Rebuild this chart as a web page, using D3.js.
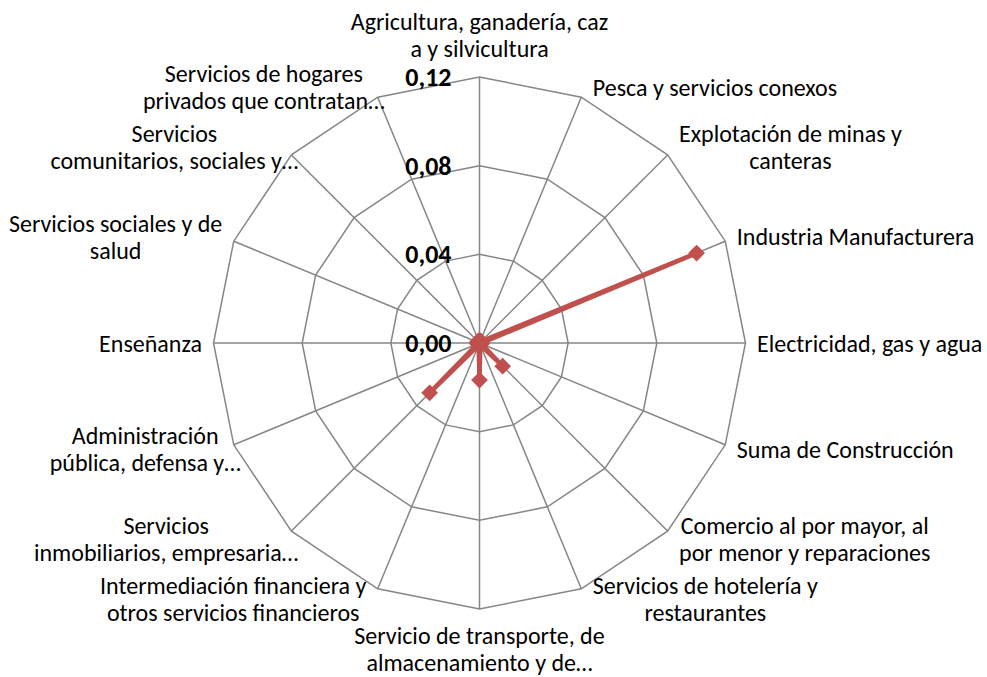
<!DOCTYPE html>
<html>
<head>
<meta charset="utf-8">
<script src="https://cdn.jsdelivr.net/npm/d3@7"></script>
<style>
  html, body { margin: 0; padding: 0; background: #fff; }
  svg text { font-family: Calibri, Carlito, Lato, sans-serif; fill: #000; }
</style>
</head>
<body>
<svg id="chart" width="987" height="677"></svg>
<script>
// ---- data ----
const categories = [
  ["Agricultura, ganadería, caz", "a y silvicultura"],
  ["Pesca y servicios conexos"],
  ["Explotación de minas y", "canteras"],
  ["Industria Manufacturera"],
  ["Electricidad, gas y agua"],
  ["Suma de Construcción"],
  ["Comercio al por mayor, al", "por menor y reparaciones"],
  ["Servicios de hotelería y", "restaurantes"],
  ["Servicio de transporte, de", "almacenamiento y de…"],
  ["Intermediación financiera y", "otros servicios financieros"],
  ["Servicios", "inmobiliarios, empresaria…"],
  ["Administración", "pública, defensa y…"],
  ["Enseñanza"],
  ["Servicios sociales y de", "salud"],
  ["Servicios", "comunitarios, sociales y…"],
  ["Servicios de hogares", "privados que contratan…"]
];
const values = [0.001, 0.001, 0.001, 0.106, 0.001, 0.001, 0.0148, 0.001,
                0.0167, 0.001, 0.0318, 0.001, 0.001, 0.001, 0.001, 0.001];
const tickValues = [0, 0.04, 0.08, 0.12];
const tickLabels = ["0,00", "0,04", "0,08", "0,12"];

// ---- layout ----
const svg = d3.select("#chart");
const cx = 479.5, cy = 343, R = 266;
const n = categories.length;
const fontSize = 24, lineH = 27;
const r = d3.scaleLinear().domain([0, 0.12]).range([0, R]);
const ang = d3.scaleLinear().domain([0, n]).range([0, 2 * Math.PI]);
const px = (i, v) => cx + r(v) * Math.sin(ang(i));
const py = (i, v) => cy - r(v) * Math.cos(ang(i));
const gridColor = "#868686";
const red = "#C0504D";

const g = svg.append("g");

// rings
tickValues.slice(1).forEach(t => {
  g.append("path")
    .attr("d", d3.line()(d3.range(n).map(i => [px(i, t), py(i, t)])) + "Z")
    .attr("fill", "none").attr("stroke", gridColor).attr("stroke-width", 1.5);
});
// spokes
d3.range(n).forEach(i => {
  g.append("line")
    .attr("x1", cx).attr("y1", cy)
    .attr("x2", px(i, 0.12)).attr("y2", py(i, 0.12))
    .attr("stroke", gridColor).attr("stroke-width", 1.5);
});

// tick labels
tickValues.forEach((t, k) => {
  g.append("text")
    .attr("x", cx - 28).attr("y", cy - r(t))
    .attr("text-anchor", "end").attr("dominant-baseline", "central")
    .attr("font-weight", "bold").attr("font-size", 26)
    .text(tickLabels[k]);
});

// category labels
categories.forEach((lines, i) => {
  const a = ang(i);
  const s = Math.sin(a), c = Math.cos(a);
  const vx = px(i, 0.12), vy = py(i, 0.12);
  const t = g.append("text").attr("font-size", fontSize);
  lines.forEach((ln, j) => {
    t.append("tspan").attr("dominant-baseline", "central").text(ln);
  });
  const tsp = t.selectAll("tspan");
  const widths = tsp.nodes().map(nd => nd.getComputedTextLength());
  const wmax = d3.max(widths);
  const h = lines.length;
  let x, y0, anchor = "middle";
  if (Math.abs(s) < 0.01) {
    x = vx;
    if (c > 0) y0 = vy - 29 - (h - 1) * lineH;
    else y0 = vy + 26;
  } else {
    const sign = s > 0 ? 1 : -1;
    const truncated = lines[lines.length - 1].endsWith("…");
    const gap = truncated ? -7 : 11.5;
    const ymid = vy - 11 * c;
    y0 = ymid - (h - 1) * lineH / 2;
    if (h === 1) {
      anchor = s > 0 ? "start" : "end";
      x = vx + sign * gap;
    } else {
      x = vx + sign * (gap + wmax / 2);
    }
  }
  t.attr("text-anchor", anchor);
  tsp.attr("x", x).attr("y", (d, j) => y0 + j * lineH);
});

// series
const pts = values.map((v, i) => [px(i, v), py(i, v)]);
g.append("path")
  .attr("d", d3.line()(pts) + "Z")
  .attr("fill", "none").attr("stroke", red).attr("stroke-width", 4.5)
  .attr("stroke-linejoin", "round");
g.selectAll(".mk").data(values).join("path")
  .attr("class", "mk")
  .attr("d", d3.symbol().type(d3.symbolSquare).size(140))
  .attr("transform", (v, i) => `translate(${px(i, v)},${py(i, v)}) rotate(45)`)
  .attr("fill", red);
</script>
</body>
</html>
